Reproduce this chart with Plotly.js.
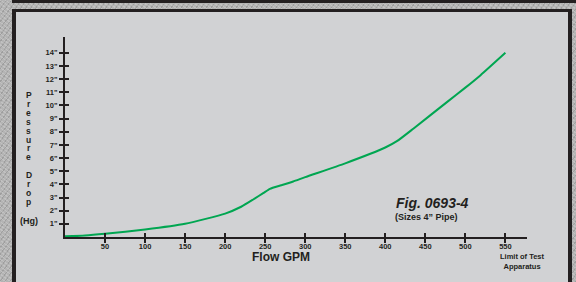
<!DOCTYPE html>
<html>
<head>
<meta charset="utf-8">
<script src="https://cdn.plot.ly/plotly-3.0.1.min.js"></script>
<style>
  html, body { margin: 0; padding: 0; }
  body {
    width: 576px; height: 282px; overflow: hidden; position: relative;
    background-color: #b4b4b4;
    background-image:
      repeating-linear-gradient(37deg, rgba(255,255,255,0.18) 0px, rgba(255,255,255,0.18) 1px, transparent 1px, transparent 3px),
      repeating-linear-gradient(-53deg, rgba(0,0,0,0.12) 0px, rgba(0,0,0,0.12) 1px, transparent 1px, transparent 4px);
  }
  #topstrip { position: absolute; left: 12px; top: 0; width: 564px; height: 3px; background: #231f20; }
  #panel {
    position: absolute; left: 12px; top: 9px; width: 560px; height: 273px;
    box-sizing: border-box; background: #d1d2d4;
    border-left: 4px solid #231f20; border-top: 3px solid #231f20; border-right: 4px solid #231f20;
  }
  #chart { position: absolute; left: 0; top: 0; width: 576px; height: 282px; }
</style>
</head>
<body>
<div id="topstrip"></div>
<div id="panel"></div>
<div id="chart"></div>
<script>
// Data
const flowGPM = [0, 25, 50, 100, 150, 200, 220, 235, 248, 256, 270, 285, 300, 350, 400, 415, 435, 477, 500, 519, 550];
const pressureDrop = [0.05, 0.12, 0.25, 0.57, 1.0, 1.78, 2.3, 2.85, 3.35, 3.66, 3.93, 4.22, 4.55, 5.6, 6.8, 7.3, 8.23, 10.25, 11.35, 12.3, 14.0];
const xTickVals = [50, 100, 150, 200, 250, 300, 350, 400, 450, 500, 550];
const xTickText = ['50', '100', '150', '200', '250', '300', '350', '400', '450', '500', '550'];
const yTickVals = [1, 2, 3, 4, 5, 6, 7, 8, 9, 10, 11, 12, 13, 14];
const yTickText = ['1"', '2"', '3"', '4"', '5"', '6"', '7"', '8"', '9"', '10"', '11"', '12"', '13"', '14"'];
const yTitleLetters = 'Pressure Drop';

const ink = '#231f20';
const fontFam = '"Liberation Sans", Arial, sans-serif';

const traces = [
  {
    x: flowGPM, y: pressureDrop, type: 'scatter', mode: 'lines',
    line: { color: '#00a651', width: 2, shape: 'spline', smoothing: 0.5 },
    hoverinfo: 'skip', showlegend: false
  },
  {
    x: flowGPM, y: pressureDrop, xaxis: 'x2', yaxis: 'y2', type: 'scatter', mode: 'lines',
    line: { color: 'rgba(0,0,0,0)', width: 0 }, hoverinfo: 'skip', showlegend: false
  }
];

const annotations = [];
const step = 8.9 / 200;
for (let i = 0; i < yTitleLetters.length; i++) {
  const ch = yTitleLetters[i];
  if (ch === ' ') continue;
  annotations.push({
    text: ch, xref: 'paper', yref: 'paper', x: -0.078, y: 0.71 - i * step,
    xanchor: 'center', yanchor: 'middle', showarrow: false,
    font: { family: fontFam, size: 8.5, color: ink, weight: 'bold' }
  });
}
annotations.push(
  { text: '<b>(Hg)</b>', xref: 'paper', yref: 'paper', x: -0.078, y: 0.08,
    xanchor: 'center', yanchor: 'middle', showarrow: false,
    font: { family: fontFam, size: 9, color: ink } },
  { text: '<b>Flow GPM</b>', xref: 'paper', yref: 'paper', x: 0.4675, y: -0.098,
    xanchor: 'center', yanchor: 'middle', showarrow: false,
    font: { family: fontFam, size: 12, color: ink } },
  { text: '<b>Limit of Test<br>Apparatus</b>', xref: 'paper', yref: 'paper', x: 0.991, y: -0.123,
    xanchor: 'center', yanchor: 'middle', showarrow: false,
    font: { family: fontFam, size: 7.5, color: ink } },
  { text: '<b><i>Fig. 0693-4</i></b>', xref: 'paper', yref: 'paper', x: 0.7955, y: 0.17,
    xanchor: 'center', yanchor: 'middle', showarrow: false,
    font: { family: fontFam, size: 14, color: ink } },
  { text: '<b>(Sizes 4\u201d Pipe)</b>', xref: 'paper', yref: 'paper', x: 0.783, y: 0.0985,
    xanchor: 'center', yanchor: 'middle', showarrow: false,
    font: { family: fontFam, size: 9, color: ink } }
);

const baseAxis = {
  showgrid: false, zeroline: false, fixedrange: true,
  tickcolor: ink, tickwidth: 2, ticklen: 4
};

const layout = {
  width: 576, height: 282,
  margin: { l: 65, r: 49, t: 37, b: 45 },
  paper_bgcolor: 'rgba(0,0,0,0)', plot_bgcolor: 'rgba(0,0,0,0)',
  showlegend: false,
  xaxis: Object.assign({}, baseAxis, {
    range: [0, 577], showline: true, linecolor: ink, linewidth: 2,
    ticks: 'outside', tickmode: 'array', tickvals: xTickVals, ticktext: xTickText,
    ticklabelstandoff: -3,
    tickfont: { family: fontFam, size: 7.5, color: ink, weight: 'bold' }
  }),
  yaxis: Object.assign({}, baseAxis, {
    range: [0, 15.2], showline: true, linecolor: ink, linewidth: 2,
    ticks: 'outside', tickmode: 'array', tickvals: yTickVals, ticktext: yTickText,
    tickfont: { family: fontFam, size: 7.5, color: ink, weight: 'bold' }
  }),
  xaxis2: Object.assign({}, baseAxis, {
    overlaying: 'x', matches: 'x', anchor: 'y2', showline: false,
    ticks: 'inside', tickmode: 'array', tickvals: xTickVals, showticklabels: false
  }),
  yaxis2: Object.assign({}, baseAxis, {
    overlaying: 'y', matches: 'y', anchor: 'x2', showline: false,
    ticks: 'inside', tickmode: 'array', tickvals: yTickVals, showticklabels: false
  }),
  annotations: annotations
};

Plotly.newPlot('chart', traces, layout, { staticPlot: true, displayModeBar: false });
</script>
</body>
</html>
